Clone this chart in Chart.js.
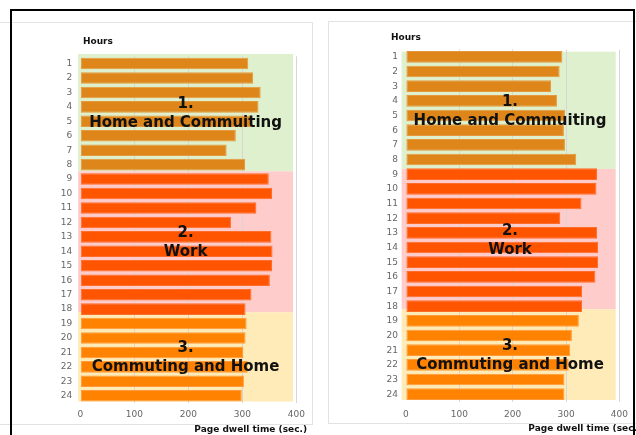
<!DOCTYPE html>
<html>
<head>
<meta charset="utf-8">
<script src="https://cdn.jsdelivr.net/npm/chart.js@4.4.1/dist/chart.umd.min.js"></script>
<style>
html, body { margin:0; padding:0; width:636px; height:435px; overflow:hidden; background:#fff; }
.box { position:absolute; border:1px solid #e2e2e2; }
#frame { position:absolute; left:10px; top:9px; width:621px; height:440px; border:2px solid #000; }
canvas { position:absolute; top:0; }
</style>
</head>
<body>
<div class="box" style="left:-10px;top:22px;width:321px;height:401px"></div>
<div class="box" style="left:328px;top:21px;width:330px;height:401px"></div>
<canvas id="left" width="320" height="435" style="left:0"></canvas>
<canvas id="right" width="318" height="435" style="left:318px"></canvas>
<div id="frame"></div>
<script>
// hours of the day (y axis)
var hours = ['1','2','3','4','5','6','7','8','9','10','11','12','13','14','15','16','17','18','19','20','21','22','23','24'];
// page dwell time in seconds
var dwellLeft = [311, 320, 334, 330, 318, 288, 271, 305, 349, 355, 326, 279, 354, 356, 355, 351, 317, 306, 308, 306, 302, 310, 303, 299];
var dwellRight = [293, 288, 272, 283, 298, 296, 298, 319, 358, 357, 329, 289, 358, 360, 360, 355, 330, 330, 324, 311, 308, 305, 297, 297];
var xTicks = [0, 100, 200, 300, 400];

// time zones
var zoneHours = [[1, 8], [9, 18], [19, 24]];
var zoneNum = ['1.', '2.', '3.'];
var zoneName = ['Home and Commuiting', 'Work', 'Commuting and Home'];

var zoneBg = ['#def0cd', '#ffcccc', '#ffebb7'];
var barFill = ['#de861a', '#ff5500', '#ff8200'];
var barEdge = ['#e6983f', '#ff6d2b', '#ff9a3a'];

function zoneOf(i) {
    var h = i + 1;
    for (var z = 0; z < zoneHours.length; z++) {
        if (h >= zoneHours[z][0] && h <= zoneHours[z][1]) return z;
    }
    return 0;
}

var zonePlugin = {
    id: 'zones',
    beforeDraw: function (chart, args, o) {
        var ctx = chart.ctx, x = chart.scales.x, y = chart.scales.y;
        var x0 = x.getPixelForValue(o.xFrom), x1 = x.getPixelForValue(o.xTo);
        ctx.save();
        for (var i = 0; i < zoneBg.length; i++) {
            var y0 = y.getPixelForValue(o.edges[i]), y1 = y.getPixelForValue(o.edges[i + 1]);
            ctx.fillStyle = zoneBg[i];
            ctx.fillRect(x0, y0, x1 - x0, y1 - y0);
        }
        ctx.restore();
    },
    afterDatasetsDraw: function (chart, args, o) {
        var ctx = chart.ctx, x = chart.scales.x, y = chart.scales.y;
        ctx.save();
        ctx.fillStyle = '#111';
        ctx.textAlign = 'center';
        ctx.textBaseline = 'middle';
        ctx.font = 'bold 15px "DejaVu Sans"';
        var cx = x.getPixelForValue(195);
        for (var i = 0; i < zoneName.length; i++) {
            var cy = (y.getPixelForValue(o.edges[i]) + y.getPixelForValue(o.edges[i + 1])) / 2 + 1;
            ctx.fillText(zoneNum[i], cx, cy - 9.5);
            ctx.fillText(zoneName[i], cx, cy + 9.5);
        }
        // axis titles
        ctx.font = 'bold 9px "DejaVu Sans"';
        ctx.textAlign = 'left';
        ctx.fillText('Hours', o.hours[0], o.hours[1]);
        ctx.textAlign = 'right';
        ctx.fillText('Page dwell time (sec.)', o.title[0], o.title[1]);
        ctx.restore();
    }
};

function makeChart(id, values, o) {
    new Chart(document.getElementById(id), {
        type: 'bar',
        data: {
            labels: hours,
            datasets: [{
                data: values,
                backgroundColor: values.map(function (v, i) { return barFill[zoneOf(i)]; }),
                borderColor: values.map(function (v, i) { return barEdge[zoneOf(i)]; }),
                borderWidth: 1,
                borderSkipped: false,
                barPercentage: 0.8,
                categoryPercentage: 1
            }]
        },
        options: {
            indexAxis: 'y',
            responsive: false,
            animation: false,
            devicePixelRatio: 1,
            layout: { padding: o.padding },
            plugins: {
                legend: { display: false },
                tooltip: { enabled: false },
                zones: o.zones
            },
            scales: {
                x: {
                    min: 0,
                    max: 400,
                    afterBuildTicks: function (s) { s.ticks = xTicks.map(function (v) { return { value: v }; }); },
                    afterFit: function (s) { s.height = 20; },
                    grid: {
                        color: function (c) { return c.tick && c.tick.value === 0 ? 'rgba(0,0,0,0)' : '#d6d6d6'; },
                        drawTicks: false
                    },
                    border: { display: false },
                    ticks: { color: '#666', padding: o.xPad, font: { family: 'DejaVu Sans', size: 9 } }
                },
                y: {
                    afterFit: function (s) { s.width = o.yWidth; },
                    grid: { display: false, drawTicks: false },
                    border: { display: false },
                    ticks: { color: '#666', padding: 8, autoSkip: false, font: { family: 'DejaVu Sans', size: 9 } }
                }
            }
        },
        plugins: [zonePlugin]
    });
}

makeChart('left', dwellLeft, {
    padding: { left: 0, top: 56.3, right: 23.7, bottom: 12 },
    yWidth: 80.3,
    xPad: 6,
    zones: { xFrom: -4, xTo: 394, edges: [-0.66, 7.46, 17.22, 23.4], hours: [83, 42], title: [307, 430] }
});

makeChart('right', dwellRight, {
    padding: { left: 0, top: 49.5, right: 15, bottom: 13.5 },
    yWidth: 87.9,
    xPad: 8,
    zones: { xFrom: -8, xTo: 393, edges: [-0.35, 7.65, 17.21, 23.4], hours: [73, 38], title: [323, 429] }
});
</script>
</body>
</html>
